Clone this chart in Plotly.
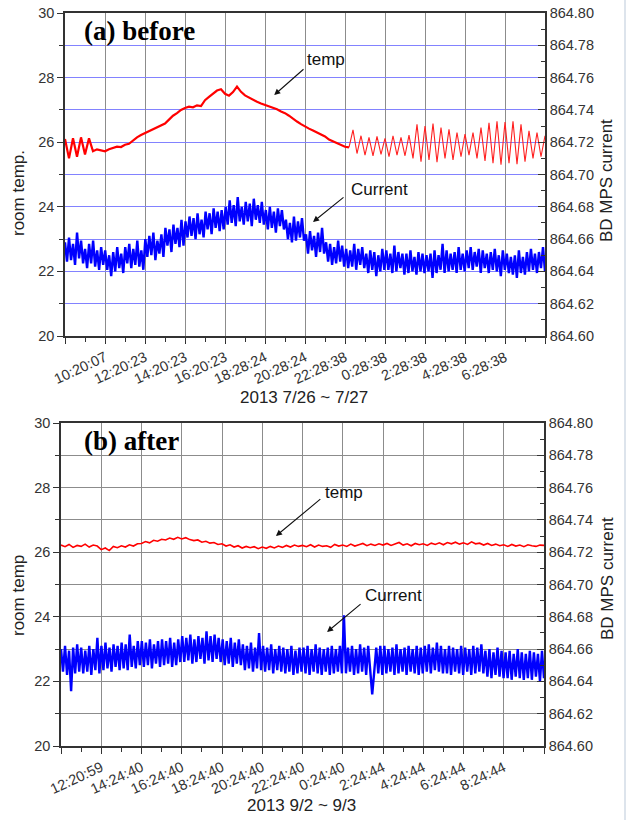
import numpy as np
import plotly.graph_objects as go

# ---------------- data ----------------
labels_a = ["10:20:07", "12:20:23", "14:20:23", "16:20:23", "18:28:24", "20:28:24",
            "22:28:38", "0:28:38", "2:28:38", "4:28:38", "6:28:38"]
labels_b = ["12:20:59", "14:24:40", "16:24:40", "18:24:40", "20:24:40", "22:24:40",
            "0:24:40", "2:24:44", "4:24:44", "6:24:44", "8:24:44"]

# room temperature, panel (a) (one sample every 0.1 label interval)
temp_a = [26.1, 25.5, 26.12, 25.55, 26.15, 25.62, 26.12, 25.72, 25.78, 25.74,
          25.72, 25.78, 25.82, 25.86, 25.85, 25.92, 25.95, 26.06, 26.15, 26.22,
          26.28, 26.34, 26.38, 26.45, 26.5, 26.58, 26.7, 26.82, 26.9, 27.0,
          27.06, 27.1, 27.08, 27.14, 27.12, 27.3, 27.4, 27.5, 27.6, 27.64,
          27.5, 27.44, 27.55, 27.72, 27.56, 27.45, 27.38, 27.3, 27.25, 27.2,
          27.16, 27.12, 27.08, 27.02, 26.95, 26.9, 26.82, 26.72, 26.64, 26.56,
          26.48, 26.42, 26.36, 26.3, 26.25, 26.18, 26.08, 26.02, 25.96, 25.9,
          25.86, 25.84, 26.38, 25.65, 26.2, 25.6, 26.15, 25.58, 26.18, 25.62,
          26.12, 25.55, 26.2, 25.6, 26.15, 25.58, 26.22, 25.5, 26.55, 25.4,
          26.5, 25.45, 26.58, 25.38, 26.45, 25.5, 26.4, 25.45, 26.3, 25.55,
          26.25, 25.6, 26.3, 25.5, 26.45, 25.42, 26.6, 25.35, 26.65, 25.3,
          26.62, 25.35, 26.65, 25.32, 26.55, 25.4, 26.35, 25.5, 26.3, 25.55,
          26.2]
smooth_end_a = 72  # index where the smooth drift ends and the oscillation starts

# BD MPS current, panel (a)
current_a = [
    864.658, 864.646, 864.661, 864.647, 864.657, 864.644, 864.664, 864.648, 864.659, 864.645,
    864.654, 864.642, 864.657, 864.645, 864.659, 864.643, 864.653, 864.641, 864.655, 864.644,
    864.653, 864.641, 864.650, 864.637, 864.652, 864.640, 864.655, 864.642, 864.651, 864.639,
    864.655, 864.645, 864.657, 864.642, 864.654, 864.644, 864.659, 864.643, 864.653, 864.641,
    864.660, 864.649, 864.662, 864.650, 864.664, 864.647, 864.659, 864.651, 864.663, 864.649,
    864.667, 864.656, 864.666, 864.652, 864.669, 864.657, 864.667, 864.655, 864.672, 864.656,
    864.671, 864.661, 864.674, 864.662, 864.673, 864.660, 864.676, 864.663, 864.672, 864.661,
    864.677, 864.666, 864.676, 864.663, 864.679, 864.667, 864.677, 864.665, 864.678, 864.666,
    864.680, 864.669, 864.684, 864.670, 864.681, 864.668, 864.686, 864.671, 864.680, 864.669,
    864.683, 864.671, 864.682, 864.668, 864.685, 864.672, 864.681, 864.670, 864.683, 864.669,
    864.678, 864.666, 864.680, 864.667, 864.677, 864.664, 864.679, 864.668, 864.678, 864.666,
    864.672, 864.660, 864.670, 864.658, 864.674, 864.659, 864.671, 864.661, 864.673, 864.659,
    864.663, 864.651, 864.665, 864.653, 864.662, 864.649, 864.664, 864.652, 864.667, 864.651,
    864.658, 864.646, 864.657, 864.644, 864.655, 864.645, 864.659, 864.646, 864.656, 864.643,
    864.654, 864.642, 864.653, 864.643, 864.657, 864.641, 864.654, 864.644, 864.655, 864.642,
    864.651, 864.639, 864.653, 864.641, 864.652, 864.637, 864.650, 864.640, 864.654, 864.641,
    864.653, 864.641, 864.651, 864.639, 864.656, 864.640, 864.652, 864.642, 864.651, 864.638,
    864.651, 864.639, 864.653, 864.640, 864.649, 864.638, 864.652, 864.640, 864.651, 864.639,
    864.650, 864.640, 864.651, 864.636, 864.653, 864.639, 864.650, 864.641, 864.657, 864.639,
    864.653, 864.640, 864.651, 864.641, 864.652, 864.639, 864.655, 864.641, 864.651, 864.640,
    864.653, 864.642, 864.655, 864.641, 864.652, 864.643, 864.654, 864.639, 864.653, 864.642,
    864.651, 864.639, 864.652, 864.641, 864.654, 864.640, 864.650, 864.637, 864.653, 864.641,
    864.651, 864.639, 864.649, 864.638, 864.650, 864.636, 864.653, 864.639, 864.649, 864.638,
    864.652, 864.640, 864.654, 864.641, 864.651, 864.639, 864.652, 864.642, 864.655, 864.640]

# room temperature, panel (b)
temp_b = [26.22, 26.17, 26.24, 26.15, 26.21, 26.18, 26.25, 26.16, 26.22, 26.19,
          26.08, 26.13, 26.05, 26.18, 26.14, 26.2, 26.16, 26.23, 26.19, 26.26,
          26.27, 26.33, 26.29, 26.37, 26.34, 26.4, 26.38, 26.44, 26.4, 26.46,
          26.41, 26.45, 26.39, 26.36, 26.38, 26.31, 26.34, 26.28, 26.3, 26.24,
          26.26, 26.19, 26.23, 26.16, 26.2, 26.13, 26.18, 26.14, 26.17, 26.11,
          26.16, 26.12, 26.18, 26.13, 26.19, 26.15, 26.21, 26.16, 26.22, 26.18,
          26.21, 26.17, 26.23, 26.16, 26.22, 26.18, 26.2, 26.15, 26.24, 26.19,
          26.22, 26.18, 26.25, 26.19, 26.23, 26.27, 26.2, 26.25, 26.21, 26.26,
          26.22, 26.27, 26.21, 26.25, 26.3, 26.22, 26.26, 26.2, 26.27, 26.23,
          26.26, 26.21, 26.28, 26.24, 26.29, 26.23, 26.3, 26.26, 26.31, 26.25,
          26.29, 26.24, 26.32, 26.26, 26.28, 26.22, 26.27, 26.21, 26.25, 26.2,
          26.23, 26.18, 26.24, 26.19, 26.22, 26.17, 26.23, 26.2, 26.18, 26.22,
          26.21]

# BD MPS current, panel (b)
current_b = [
    864.660, 864.646, 864.662, 864.644, 864.659, 864.634, 864.661, 864.645, 864.663, 864.646,
    864.661, 864.645, 864.659, 864.646, 864.662, 864.644, 864.660, 864.647, 864.667, 864.645,
    864.662, 864.647, 864.664, 864.648, 864.661, 864.646, 864.663, 864.649, 864.662, 864.647,
    864.664, 864.648, 864.663, 864.647, 864.669, 864.649, 864.662, 864.648, 864.665, 864.650,
    864.665, 864.649, 864.664, 864.650, 864.666, 864.648, 864.663, 864.651, 864.665, 864.649,
    864.666, 864.650, 864.665, 864.651, 864.667, 864.649, 864.664, 864.650, 864.666, 864.652,
    864.668, 864.652, 864.667, 864.653, 864.669, 864.651, 864.666, 864.652, 864.668, 864.654,
    864.667, 864.651, 864.671, 864.653, 864.668, 864.652, 864.669, 864.654, 864.667, 864.652,
    864.666, 864.650, 864.665, 864.651, 864.667, 864.649, 864.664, 864.651, 864.666, 864.650,
    864.663, 864.647, 864.662, 864.648, 864.664, 864.646, 864.661, 864.648, 864.670, 864.647,
    864.662, 864.646, 864.661, 864.647, 864.663, 864.645, 864.660, 864.647, 864.662, 864.646,
    864.661, 864.645, 864.660, 864.646, 864.662, 864.644, 864.659, 864.645, 864.661, 864.646,
    864.661, 864.645, 864.662, 864.644, 864.660, 864.646, 864.663, 864.645, 864.661, 864.644,
    864.660, 864.646, 864.661, 864.644, 864.662, 864.645, 864.660, 864.646, 864.662, 864.645,
    864.681, 864.645, 864.661, 864.646, 864.662, 864.644, 864.660, 864.645, 864.663, 864.646,
    864.661, 864.644, 864.662, 864.645, 864.632, 864.646, 864.661, 864.645, 864.662, 864.644,
    864.662, 864.645, 864.660, 864.646, 864.661, 864.644, 864.663, 864.645, 864.660, 864.646,
    864.661, 864.644, 864.662, 864.646, 864.660, 864.645, 864.662, 864.644, 864.661, 864.645,
    864.662, 864.646, 864.663, 864.645, 864.661, 864.647, 864.664, 864.646, 864.662, 864.645,
    864.660, 864.645, 864.662, 864.644, 864.661, 864.646, 864.660, 864.645, 864.662, 864.644,
    864.661, 864.646, 864.660, 864.644, 864.662, 864.645, 864.661, 864.646, 864.663, 864.645,
    864.659, 864.643, 864.660, 864.642, 864.658, 864.644, 864.661, 864.643, 864.659, 864.642,
    864.658, 864.642, 864.659, 864.641, 864.657, 864.643, 864.660, 864.642, 864.658, 864.641,
    864.657, 864.642, 864.659, 864.641, 864.658, 864.643, 864.657, 864.640, 864.659, 864.642]

temp_ticks = [20, 22, 24, 26, 28, 30]
current_ticks = [864.60, 864.62, 864.64, 864.66, 864.68, 864.70, 864.72, 864.74, 864.76, 864.78, 864.80]

# ---------------- figure ----------------
W, H = 627, 820
n_int = len(labels_a) + 1  # number of label intervals across the axis (12)


def t_axis(n):
    return np.linspace(0, n_int, n)


ta = t_axis(len(temp_a))
fig = go.Figure()
fig.add_trace(go.Scatter(x=ta[:smooth_end_a], y=temp_a[:smooth_end_a], mode="lines",
                         line=dict(color="#ff0000", width=2.2), xaxis="x", yaxis="y"))
fig.add_trace(go.Scatter(x=ta[smooth_end_a - 1:], y=temp_a[smooth_end_a - 1:], mode="lines",
                         line=dict(color="#ff2020", width=1.1), xaxis="x", yaxis="y"))
fig.add_trace(go.Scatter(x=t_axis(len(current_a)), y=current_a, mode="lines",
                         line=dict(color="#0000ff", width=2.4), xaxis="x", yaxis="y2"))
fig.add_trace(go.Scatter(x=t_axis(len(temp_b)), y=temp_b, mode="lines",
                         line=dict(color="#ff0000", width=1.6), xaxis="x2", yaxis="y3"))
fig.add_trace(go.Scatter(x=t_axis(len(current_b)), y=current_b, mode="lines",
                         line=dict(color="#0000ff", width=2.4), xaxis="x2", yaxis="y4"))

tick_font = dict(family="Liberation Sans, Arial, sans-serif", size=14.5, color="#333333")
line_col = "#333333"


def xaxis_cfg(domain, labels, anchor):
    return dict(domain=domain, anchor=anchor, range=[0, n_int], automargin=False,
                tickmode="array", tickvals=list(range(n_int + 1)),
                ticktext=[""] + labels + [""], tickangle=-25, tickfont=tick_font,
                ticks="outside", ticklen=6, tickwidth=1.3, tickcolor=line_col,
                showline=True, linecolor=line_col, linewidth=1.5, mirror=True,
                showgrid=True, gridcolor="#8c8c8c", gridwidth=1, zeroline=False,
                minor=dict(tickmode="array", tickvals=[i + 0.5 for i in range(n_int)],
                           ticks="outside", ticklen=4, tickwidth=1.2, tickcolor=line_col,
                           showgrid=False))


def yleft_cfg(domain, anchor, gcol):
    return dict(domain=domain, anchor=anchor, range=[20, 30], automargin=False,
                tickmode="array", tickvals=temp_ticks, tickfont=tick_font,
                ticks="outside", ticklen=6, tickwidth=1.3, tickcolor=line_col,
                showline=True, linecolor=line_col, linewidth=1.5, mirror=True,
                showgrid=True, gridcolor=gcol, gridwidth=1, zeroline=False,
                minor=dict(tickmode="array", tickvals=[21, 23, 25, 27, 29],
                           ticks="outside", ticklen=4, tickwidth=1.2, tickcolor=line_col,
                           showgrid=True, gridcolor=gcol, gridwidth=1))


def yright_cfg(anchor, overlay):
    return dict(anchor=anchor, overlaying=overlay, side="right", automargin=False,
                range=[864.60, 864.80], tickmode="array", tickvals=current_ticks,
                ticktext=["%.2f" % v for v in current_ticks], tickfont=tick_font,
                ticks="inside", ticklen=7, tickwidth=1.3, tickcolor=line_col,
                showline=True, linecolor=line_col, linewidth=1.5,
                showgrid=False, zeroline=False,
                minor=dict(tickmode="array",
                           tickvals=[round(v + 0.01, 2) for v in current_ticks[:-1]],
                           ticks="inside", ticklen=4, tickwidth=1.2, tickcolor=line_col,
                           showgrid=False))


xa_dom = [65 / W, 545 / W]
xb_dom = [61 / W, 544 / W]
ya_dom = [1 - 336 / H, 1 - 13 / H]
yb_dom = [1 - 746 / H, 1 - 423 / H]

fig.update_layout(
    width=W, height=H, margin=dict(l=0, r=0, t=0, b=0, autoexpand=False),
    paper_bgcolor="white", plot_bgcolor="white", showlegend=False,
    xaxis=xaxis_cfg(xa_dom, labels_a, "y"),
    yaxis=yleft_cfg(ya_dom, "x", "#8282ff"),
    yaxis2=yright_cfg("x", "y"),
    xaxis2=xaxis_cfg(xb_dom, labels_b, "y3"),
    yaxis3=yleft_cfg(yb_dom, "x2", "#8c8c8c"),
    yaxis4=yright_cfg("x2", "y3"),
)

label_font = dict(family="Liberation Sans, Arial, sans-serif", size=17, color="#222222")
note_font = dict(family="Liberation Sans, Arial, sans-serif", size=17, color="#111111")
panel_font = dict(family="Liberation Serif, Times New Roman, serif", size=27, color="#000000")


def paper_text(text, px, py, font, angle=0, xanchor="center"):
    fig.add_annotation(text=text, xref="paper", yref="paper", x=px / W, y=1 - py / H,
                       xanchor=xanchor, yanchor="middle", showarrow=False,
                       font=font, textangle=angle)


paper_text("<b>(a) before</b>", 82, 31, panel_font, xanchor="left")
paper_text("<b>(b) after</b>", 82, 441, panel_font, xanchor="left")
paper_text("room temp.", 18, 193, label_font, angle=-90)
paper_text("room temp", 18, 596, label_font, angle=-90)
paper_text("BD MPS current", 607, 181, label_font, angle=-90)
paper_text("BD MPS current", 607, 579, label_font, angle=-90)
paper_text("2013 7/26 ~ 7/27", 304, 397, label_font)
paper_text("2013 9/2 ~ 9/3", 301, 805, label_font)


def arrow(xr, yr, head, tail):
    fig.add_annotation(xref=xr, yref=yr, axref=xr, ayref=yr, x=head[0], y=head[1],
                       ax=tail[0], ay=tail[1], text="", showarrow=True,
                       arrowhead=2, arrowsize=1.1, arrowwidth=1.1, arrowcolor="#111111")


def note(xr, yr, text, pos):
    fig.add_annotation(xref=xr, yref=yr, x=pos[0], y=pos[1], text=text, showarrow=False,
                       xanchor="left", yanchor="middle", font=note_font)


arrow("x", "y", (5.23, 27.46), (6.0, 28.3))
note("x", "y", "temp", (6.0, 28.55))
arrow("x", "y", (6.2, 23.53), (7.0, 24.33))
note("x", "y", "Current", (7.1, 24.55))
arrow("x2", "y3", (5.34, 26.5), (6.48, 27.68))
note("x2", "y3", "temp", (6.5, 27.86))
arrow("x2", "y3", (6.61, 23.53), (7.48, 24.43))
note("x2", "y3", "Current", (7.5, 24.67))

fig.add_shape(type="line", xref="paper", yref="paper", x0=625 / W, x1=625 / W, y0=0, y1=1,
              line=dict(color="#dde4ec", width=2))

fig.write_html("out.html", config={"displayModeBar": False},
               post_script="document.body.style.margin='0';document.body.style.padding='0';")
